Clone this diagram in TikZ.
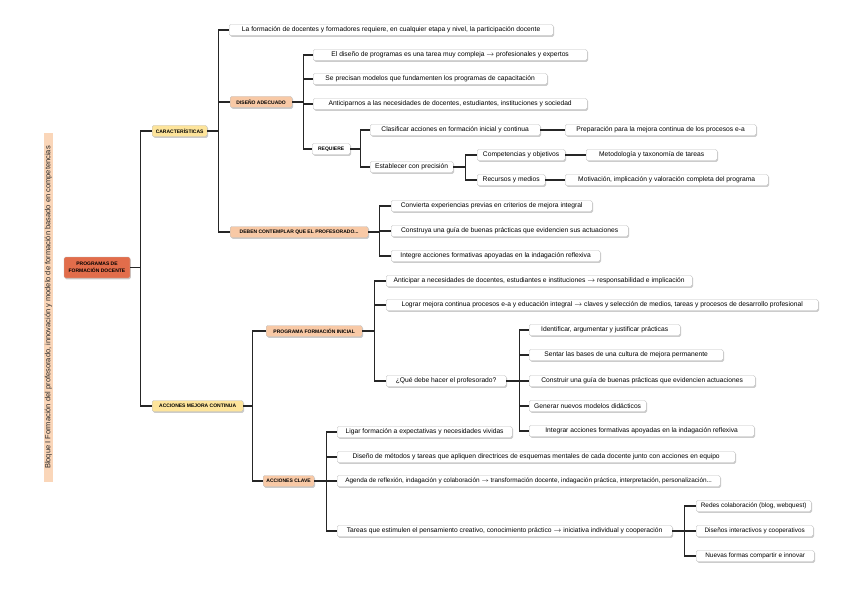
\documentclass[tikz,border=0pt]{standalone}
\usepackage{fontspec}
\setmainfont{Liberation Sans}
\usetikzlibrary{shadows}
\definecolor{rootc}{HTML}{E26D4B}
\definecolor{yelc}{HTML}{FDE49B}
\definecolor{pchc}{HTML}{F8C9A6}
\definecolor{bandc}{HTML}{FAD6B9}
\tikzset{
  box/.style={draw=black!25, line width=0.3pt, fill=white, rounded corners=1.5pt,
    minimum height=11pt, inner sep=1.2pt, anchor=west,
    font=\fontsize{6.7}{7.5}\selectfont,
    drop shadow={shadow xshift=0.9pt, shadow yshift=-1.3pt, opacity=0.4}},
  smallbox/.style={box, font=\fontsize{6.4}{7.5}\selectfont},
  hdr/.style={box, font=\fontsize{5}{5.5}\selectfont\bfseries},
  yel/.style={hdr, fill=yelc},
  pch/.style={hdr, fill=pchc},
  conn/.style={line width=1.1pt, draw=black!85},
}
\begin{document}
\begin{tikzpicture}[x=1pt,y=-1pt]
\useasboundingbox[fill=white] (0,0) rectangle (848,599);
% title band
\node[rotate=90, fill=bandc, minimum width=349pt, minimum height=9pt, inner sep=0pt,
  font=\fontsize{7.5}{8}\selectfont, text=black!85] (title) at (48.5,307.5)
  {Bloque I Formación del profesorado, innovación y modelo de formación basado en competencias};
% root
\node[hdr, fill=rootc, anchor=center, minimum width=66pt, minimum height=21pt, align=center,
  font=\fontsize{5}{6.5}\selectfont\bfseries] (root) at (97,267.5) {PROGRAMAS DE\\FORMACIÓN DOCENTE};
% level 1
\node[yel, minimum width=55pt] (car) at (152,131) {CARACTERÍSTICAS};
\node[yel, minimum width=91pt] (amc) at (152,406) {ACCIONES MEJORA CONTINUA};
% CARACTERISTICAS children
\node[box, minimum width=324pt] (c1) at (229,30) {La formación de docentes y formadores requiere, en cualquier etapa y nivel, la participación docente};
\node[pch, minimum width=62pt] (dis) at (230,102) {DISEÑO ADECUADO};
\node[pch, minimum width=138pt] (deb) at (230,232) {DEBEN CONTEMPLAR QUE EL PROFESORADO...};
% DISENO children
\node[box, minimum width=274pt] (d1) at (313,55) {El diseño de programas es una tarea muy compleja $\rightarrow$ profesionales y expertos};
\node[box, minimum width=234pt] (d2) at (313,79) {Se precisan modelos que fundamenten los programas de capacitación};
\node[box, minimum width=274pt] (d3) at (313,104) {Anticiparnos a las necesidades de docentes, estudiantes, instituciones y sociedad};
\node[hdr, minimum width=38pt] (req) at (312,149) {REQUIERE};
% REQUIERE children
\node[box, minimum width=170pt] (cla) at (370,130) {Clasificar acciones en formación inicial y continua};
\node[box, minimum width=191pt] (pre) at (565,130) {Preparación para la mejora continua de los procesos e-a};
\node[box, minimum width=83pt] (est) at (370,167) {Establecer con precisión};
\node[box, minimum width=88pt] (comp) at (477,155) {Competencias y objetivos};
\node[box, minimum width=131pt] (met) at (586,155) {Metodología y taxonomía de tareas};
\node[box, minimum width=68pt] (rec) at (477,180) {Recursos y medios};
\node[box, minimum width=203pt] (mot) at (565,180) {Motivación, implicación y valoración completa del programa};
% DEBEN children
\node[box, minimum width=201pt] (e1) at (391,206) {Convierta experiencias previas en criterios de mejora integral};
\node[box, minimum width=237pt] (e2) at (391,231) {Construya una guía de buenas prácticas que evidencien sus actuaciones};
\node[box, minimum width=209pt] (e3) at (391,256) {Integre acciones formativas apoyadas en la indagación reflexiva};
% ACCIONES MEJORA CONTINUA children
\node[pch, minimum width=96pt] (pfi) at (266,331) {PROGRAMA FORMACIÓN INICIAL};
\node[pch, minimum width=51pt] (ac) at (263,481) {ACCIONES CLAVE};
% PFI children
\node[box, minimum width=306pt] (p1) at (386,281) {Anticipar a necesidades de docentes, estudiantes e instituciones $\rightarrow$ responsabilidad e implicación};
\node[box, minimum width=432pt] (p2) at (386,305) {Lograr mejora continua procesos e-a y educación integral $\rightarrow$ claves y selección de medios, tareas y procesos de desarrollo profesional};
\node[box, minimum width=120pt] (que) at (386,381) {¿Qué debe hacer el profesorado?};
% QUE children
\node[box, minimum width=151pt] (q1) at (529,330) {Identificar, argumentar y justificar prácticas};
\node[box, minimum width=194pt] (q2) at (529,355) {Sentar las bases de una cultura de mejora permanente};
\node[box, minimum width=226pt] (q3) at (529,381) {Construir una guía de buenas prácticas que evidencien actuaciones};
\node[box, minimum width=117pt] (q4) at (529,406) {Generar nuevos modelos didácticos};
\node[box, minimum width=225pt] (q5) at (529,431) {Integrar acciones formativas apoyadas en la indagación reflexiva};
% ACCIONES CLAVE children
\node[box, minimum width=175pt] (a1) at (337,432) {Ligar formación a expectativas y necesidades vividas};
\node[box, minimum width=398pt] (a2) at (337,457) {Diseño de métodos y tareas que apliquen directrices de esquemas mentales de cada docente junto con acciones en equipo};
\node[smallbox, minimum width=383pt] (a3) at (337,481) {Agenda de reflexión, indagación y colaboración $\rightarrow$ transformación docente, indagación práctica, interpretación, personalización...};
\node[box, minimum width=335pt] (a4) at (337,531) {Tareas que estimulen el pensamiento creativo, conocimiento práctico $\rightarrow$ iniciativa individual y cooperación};
% TAREAS children
\node[smallbox, minimum width=115pt] (t1) at (696,506) {Redes colaboración (blog, webquest)};
\node[smallbox, minimum width=117pt] (t2) at (696,531) {Diseños interactivos y cooperativos};
\node[smallbox, minimum width=118pt] (t3) at (696,556) {Nuevas formas compartir e innovar};
% connectors
\foreach \c in {car,amc} \draw[conn] (root.east) -- ++(10,0) |- (\c.west);
\foreach \c in {c1,dis,deb} \draw[conn] (car.east) -- ++(11,0) |- (\c.west);
\foreach \c in {d1,d2,d3,req} \draw[conn] (dis.east) -- ++(11,0) |- (\c.west);
\foreach \c in {cla,est} \draw[conn] (req.east) -- ++(10,0) |- (\c.west);
\draw[conn] (cla.east) -- (pre.west);
\foreach \c in {comp,rec} \draw[conn] (est.east) -- ++(12,0) |- (\c.west);
\draw[conn] (comp.east) -- (met.west);
\draw[conn] (rec.east) -- (mot.west);
\foreach \c in {e1,e2,e3} \draw[conn] (deb.east) -- ++(11,0) |- (\c.west);
\foreach \c in {pfi,ac} \draw[conn] (amc.east) -- ++(9,0) |- (\c.west);
\foreach \c in {p1,p2,que} \draw[conn] (pfi.east) -- ++(12,0) |- (\c.west);
\foreach \c in {q1,q2,q3,q4,q5} \draw[conn] (que.east) -- ++(13,0) |- (\c.west);
\foreach \c in {a1,a2,a3,a4} \draw[conn] (ac.east) -- ++(12,0) |- (\c.west);
\foreach \c in {t1,t2,t3} \draw[conn] (a4.east) -- ++(12,0) |- (\c.west);
\end{tikzpicture}
\end{document}
